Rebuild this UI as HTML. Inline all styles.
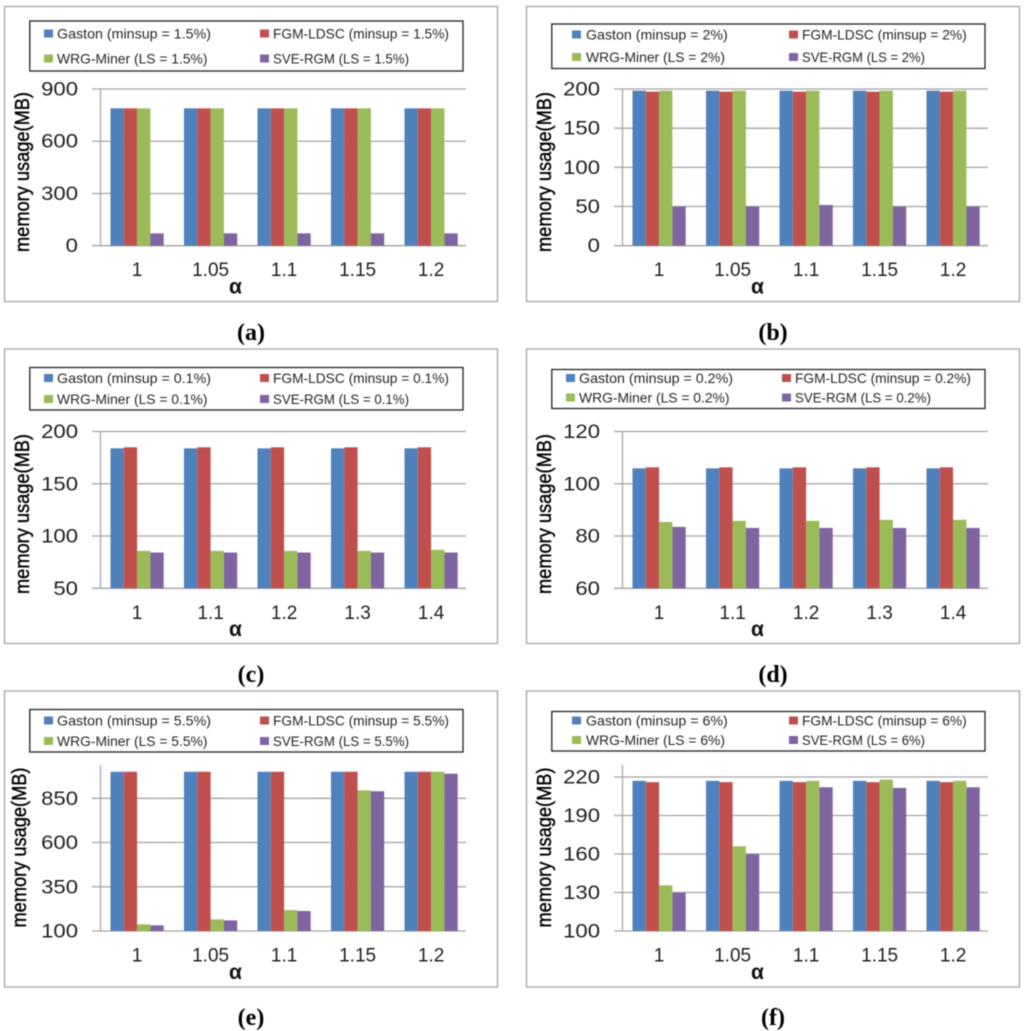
<!DOCTYPE html>
<html lang="en">
<head>
<meta charset="utf-8">
<title>Memory usage charts</title>
<style>
html,body{margin:0;padding:0;background:#fff;}
svg{display:block;filter:blur(0.4px);}
text{font-family:"Liberation Sans","DejaVu Sans",sans-serif;}
.tick{font-size:19px;fill:#1f1f1f;}
.legend{font-size:14px;fill:#262626;}
.ytitle{font-size:20px;fill:#000;stroke:#000;stroke-width:.4px;}
.alpha{font-size:21px;font-weight:bold;fill:#111;}
.caption{font-family:"Liberation Serif",serif;font-size:24px;font-weight:bold;fill:#000;}
</style>
</head>
<body>
<svg id="figure" xmlns="http://www.w3.org/2000/svg" width="1024" height="1031" viewBox="0 0 1024 1031"></svg>
<script>
// ---------- chart data ----------
const categoriesA = ["1","1.05","1.1","1.15","1.2"];
const ticksA = [0,300,600,900];
const legendA = ["Gaston (minsup = 1.5%)","FGM-LDSC (minsup = 1.5%)","WRG-Miner (LS = 1.5%)","SVE-RGM (LS = 1.5%)"];
const gastonA = [789,789,789,789,789];
const fgmA = [789,789,789,789,789];
const wrgA = [789,789,789,789,789];
const sveA = [71,71,71,71,71];

const categoriesB = ["1","1.05","1.1","1.15","1.2"];
const ticksB = [0,50,100,150,200];
const legendB = ["Gaston (minsup = 2%)","FGM-LDSC (minsup = 2%)","WRG-Miner (LS = 2%)","SVE-RGM (LS = 2%)"];
const gastonB = [197.8,197.8,197.8,197.8,197.8];
const fgmB = [196.6,196.6,196.6,196.6,196.6];
const wrgB = [197.8,197.8,197.8,197.8,197.8];
const sveB = [50,50,52,50,50];

const categoriesC = ["1","1.1","1.2","1.3","1.4"];
const ticksC = [50,100,150,200];
const legendC = ["Gaston (minsup = 0.1%)","FGM-LDSC (minsup = 0.1%)","WRG-Miner (LS = 0.1%)","SVE-RGM (LS = 0.1%)"];
const gastonC = [183.9,183.9,183.9,183.9,183.9];
const fgmC = [184.9,184.9,184.9,184.9,184.9];
const wrgC = [85.8,85.8,85.8,85.8,86.8];
const sveC = [84.2,84.2,84.2,84.2,84.2];

const categoriesD = ["1","1.1","1.2","1.3","1.4"];
const ticksD = [60,80,100,120];
const legendD = ["Gaston (minsup = 0.2%)","FGM-LDSC (minsup = 0.2%)","WRG-Miner (LS = 0.2%)","SVE-RGM (LS = 0.2%)"];
const gastonD = [105.9,105.9,105.9,105.9,105.9];
const fgmD = [106.3,106.3,106.3,106.3,106.3];
const wrgD = [85.4,85.8,85.8,86.2,86.2];
const sveD = [83.5,83.1,83.1,83.1,83.1];

const categoriesE = ["1","1.05","1.1","1.15","1.2"];
const ticksE = [100,350,600,850];
const legendE = ["Gaston (minsup = 5.5%)","FGM-LDSC (minsup = 5.5%)","WRG-Miner (LS = 5.5%)","SVE-RGM (LS = 5.5%)"];
const gastonE = [1000,1000,1000,1000,1000];
const fgmE = [1000,1000,1000,1000,1000];
const wrgE = [138,166,218,895,1000];
const sveE = [132,160,213,890,989];

const categoriesF = ["1","1.05","1.1","1.15","1.2"];
const ticksF = [100,130,160,190,220];
const legendF = ["Gaston (minsup = 6%)","FGM-LDSC (minsup = 6%)","WRG-Miner (LS = 6%)","SVE-RGM (LS = 6%)"];
const gastonF = [217,217,217,217,217];
const fgmF = [216,216,216,216,216];
const wrgF = [135.6,166,217,218,217];
const sveF = [130,160,212,211.5,212];

// ---------- series styling ----------
const seriesColors = ["#4f81bd","#c0504d","#9bbb59","#8064a2"];
const seriesKeys = ["gaston","fgm-ldsc","wrg-miner","sve-rgm"];

// ---------- panel layout ----------
const wideWidths = [154,176,150.5,136];
const narrowWidths = [141.7,164.7,139,123];
const panels = [
 {id:"a",ox:0,cats:categoriesA,ticks:ticksA,legend:legendA,series:[gastonA,fgmA,wrgA,sveA],
  frame:[6.5,301.5],lbox:[21,71],rows:[33.5,58.5],swatch:[44,260],txt:[57,273],widths:wideWidths,
  tickTop:89,base:245.7,axisTop:89,titleX:29,titleY:172,capY:340},
 {id:"b",ox:522,cats:categoriesB,ticks:ticksB,legend:legendB,series:[gastonB,fgmB,wrgB,sveB],
  frame:[6.5,301.5],lbox:[24,68.5],rows:[34.5,57],swatch:[50,267],txt:[64,280],widths:narrowWidths,
  tickTop:89,base:245.7,axisTop:89,titleX:29,titleY:172,capY:340},
 {id:"c",ox:0,cats:categoriesC,ticks:ticksC,legend:legendC,series:[gastonC,fgmC,wrgC,sveC],
  frame:[349,643.5],lbox:[367.5,410],rows:[378,399],swatch:[44,260],txt:[57,273],widths:wideWidths,
  tickTop:431.5,base:588.3,axisTop:431.5,titleX:29,titleY:514,capY:682},
 {id:"d",ox:522,cats:categoriesD,ticks:ticksD,legend:legendD,series:[gastonD,fgmD,wrgD,sveD],
  frame:[349,643.5],lbox:[369.5,408.5],rows:[378,397.5],swatch:[44,260],txt:[57,273],widths:wideWidths,
  tickTop:431.5,base:588.3,axisTop:431.5,titleX:29,titleY:514,capY:682},
 {id:"e",ox:0,cats:categoriesE,ticks:ticksE,legend:legendE,series:[gastonE,fgmE,wrgE,sveE],
  frame:[691,987],lbox:[709.5,752],rows:[720.5,741],swatch:[44,260],txt:[57,273],widths:wideWidths,
  tickTop:798.3,base:931,axisTop:765,titleX:26,titleY:847.5,capY:1025},
 {id:"f",ox:522,cats:categoriesF,ticks:ticksF,legend:legendF,series:[gastonF,fgmF,wrgF,sveF],
  frame:[691,987],lbox:[711.5,751],rows:[720.5,740],swatch:[50,267],txt:[64,280],widths:narrowWidths,
  tickTop:777,base:931,axisTop:765,titleX:29,titleY:847.5,capY:1025}
];

const NS = "http://www.w3.org/2000/svg";
const root = document.getElementById("figure");
function make(parent, tag, attrs, text){
  const el = document.createElementNS(NS, tag);
  for(const k in attrs){ el.setAttribute(k, attrs[k]); }
  if(text !== undefined){ el.textContent = text; }
  parent.appendChild(el);
  return el;
}

const AXIS_X = 100.5, GRID_L = 92, GRID_R = 466, STEP = 73.5, BAR_W = 13.3, GROUP_PAD = 10;

panels.forEach(function(p){
  const first = p.ticks[0], last = p.ticks[p.ticks.length-1];
  const yScale = function(v){ return p.base - (v-first)/(last-first)*(p.base-p.tickTop); };
  const xBand = function(i){ return AXIS_X + GROUP_PAD + i*STEP; };

  const g = make(root,"g",{transform:"translate("+p.ox+",0)"});
  
  

  const frame = make(g,"rect",{x:4.5,y:p.frame[0],width:493,height:p.frame[1]-p.frame[0],fill:"#fff",stroke:"#a3a3a3","stroke-width":1.3});
  
  

  // gridlines and y tick labels
  p.ticks.forEach(function(t){
    const y = yScale(t);
    const line = make(g,"line",{x1:GRID_L,x2:GRID_R,y1:y,y2:y,stroke:"#a3a3a3","stroke-width":1.3});
    
    
    const s = String(t);
    const lab = make(g,"text",{"class":"tick",x:78,y:y+6.5,"text-anchor":"end",textLength:s.length*12.3,lengthAdjust:"spacingAndGlyphs"},s);
    
    
  });

  const axis = make(g,"line",{x1:AXIS_X,x2:AXIS_X,y1:p.axisTop,y2:p.base,stroke:"#a3a3a3","stroke-width":1.2});
  
  

  // bars
  p.cats.forEach(function(c,i){
    p.series.forEach(function(values,j){
      const top = yScale(values[i]);
      const bar = make(g,"rect",{x:xBand(i)+j*BAR_W,y:top,width:BAR_W,height:p.base-top,fill:seriesColors[j]});
      
      
    });
    const lab = make(g,"text",{"class":"tick",x:xBand(i)+2*BAR_W,y:p.base+30.5,"text-anchor":"middle"},c);
    
    
  });

  // legend
  const box = make(g,"rect",{x:29.8,y:p.lbox[0],width:433.2,height:p.lbox[1]-p.lbox[0],fill:"#fff",stroke:"#222","stroke-width":1.3});
  
  
  p.legend.forEach(function(label,j){
    const col = j%2, row = j<2?0:1;
    const cy = p.rows[row];
    const sw = make(g,"rect",{x:p.swatch[col],y:cy-4,width:9,height:8,fill:seriesColors[j]});
    
    
    const tx = make(g,"text",{"class":"legend",x:p.txt[col],y:cy+4.8,textLength:p.widths[j],lengthAdjust:"spacingAndGlyphs"},label);
    
    
  });

  // titles
  const yt = make(g,"text",{"class":"ytitle","text-anchor":"middle",textLength:160,lengthAdjust:"spacingAndGlyphs",transform:"translate("+p.titleX+","+p.titleY+") rotate(-90)"},"memory usage(MB)");
  
  

  const xt = make(g,"text",{"class":"alpha",x:235.5,y:p.base+47.8,"text-anchor":"middle"},"α");
  
  

  const cap = make(g,"text",{"class":"caption",x:251,y:p.capY,"text-anchor":"middle"},"("+p.id+")");
  
  
});
</script>
</body>
</html>
